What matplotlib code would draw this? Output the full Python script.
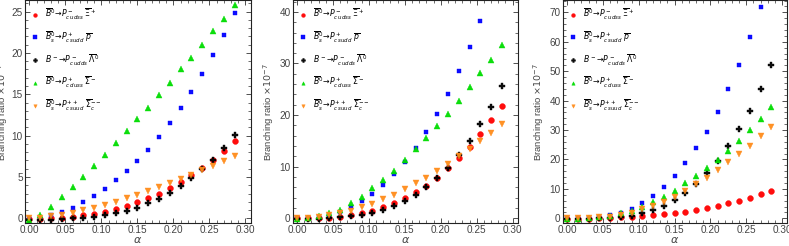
import numpy as np
import matplotlib.pyplot as plt
from matplotlib.ticker import MultipleLocator

plt.rcParams['font.family'] = ['Liberation Sans', 'DejaVu Sans']

# alpha values (x axis)
alpha = [0.0, 0.015, 0.03, 0.045, 0.06, 0.075, 0.09, 0.105, 0.12, 0.135,
         0.15, 0.165, 0.18, 0.195, 0.21, 0.225, 0.24, 0.255, 0.27, 0.285]

labels = [
    r'$\overline{B}^0\!\rightarrow\!P^-_{c\,udss}\;\overline{\Xi}^+$',
    r'$\overline{B}^0_s\!\rightarrow\!P^+_{c\,sudd}\;\overline{p}$',
    r'$B^-\!\rightarrow\!P^-_{c\,udds}\;\overline{\Lambda}^0$',
    r'$\overline{B}^0\!\rightarrow\!P^+_{c\,duss}\;\overline{\Sigma}^-$',
    r'$\overline{B}^0_s\!\rightarrow\!P^{++}_{c\,suud}\;\overline{\Sigma}_c^{--}$',
]

# panel 1 (x10^-7)
p1_red = [-0.1, -0.1, 0.0, 0.1, 0.2, 0.35, 0.55, 0.8, 1.1, 1.5,
          1.95, 2.45, 3.0, 3.65, 4.4, 5.2, 6.1, 7.1, 8.2, 9.4]
p1_blue = [0.0, 0.1, 0.4, 0.8, 1.3, 2.0, 2.7, 3.6, 4.6, 5.7,
           6.9, 8.3, 9.8, 11.5, 13.3, 15.3, 17.4, 19.7, 22.2, 24.8]
p1_black = [-0.2, -0.2, -0.2, -0.1, 0.0, 0.1, 0.2, 0.4, 0.6, 0.9,
            1.3, 1.8, 2.35, 3.1, 3.9, 4.85, 6.0, 7.1, 8.5, 10.1]
p1_green = [-0.2, 0.4, 1.4, 2.6, 3.8, 5.0, 6.3, 7.7, 9.1, 10.5,
            12.0, 13.4, 14.9, 16.4, 18.0, 19.4, 21.0, 22.6, 24.1, 25.8]
p1_orange = [0.0, 0.1, 0.3, 0.45, 0.7, 0.95, 1.3, 1.6, 2.0, 2.4,
             2.85, 3.3, 3.8, 4.3, 4.8, 5.3, 5.8, 6.3, 6.9, 7.5]

# panel 2
p2_red = [0.0, 0.0, 0.05, 0.1, 0.3, 0.6, 1.0, 1.5, 2.1, 2.9,
          3.9, 5.0, 6.3, 7.9, 9.7, 11.6, 13.9, 16.3, 19.0, 21.7]
p2_blue = [0.0, 0.1, 0.3, 0.6, 1.2, 2.2, 3.4, 4.8, 6.5, 8.6,
           11.0, 13.7, 16.8, 20.3, 24.1, 28.5, 33.2, 38.3, 43.8, 49.7]
p2_black = [-0.1, -0.1, -0.1, 0.05, 0.2, 0.4, 0.65, 1.1, 1.6, 2.3,
            3.4, 4.5, 6.1, 7.9, 9.8, 12.3, 15.0, 18.2, 21.6, 25.6]
p2_green = [-0.2, 0.1, 0.4, 1.0, 1.7, 2.9, 4.2, 5.8, 7.4, 9.2,
            11.3, 13.4, 15.6, 17.9, 20.3, 22.8, 25.4, 28.1, 30.6, 33.5]
p2_orange = [0.0, 0.1, 0.3, 0.6, 1.0, 1.4, 2.1, 2.8, 3.7, 4.6,
             5.6, 6.8, 7.9, 9.2, 10.6, 12.1, 13.4, 15.0, 16.6, 18.2]

# panel 3
p3_red = [-0.1, -0.1, -0.1, 0.05, 0.15, 0.35, 0.6, 0.8, 1.1, 1.4,
          1.9, 2.3, 2.8, 3.4, 4.2, 5.1, 6.0, 7.0, 8.2, 9.3]
p3_blue = [0.0, 0.0, 0.2, 0.5, 1.1, 1.9, 3.2, 5.1, 7.7, 10.5,
           14.4, 18.7, 24.0, 29.4, 36.2, 43.8, 52.1, 61.5, 71.7, 82.5]
p3_black = [-0.2, -0.2, -0.1, 0.0, 0.1, 0.35, 0.9, 1.7, 2.8, 4.3,
            6.2, 8.7, 11.7, 15.3, 19.6, 24.7, 30.2, 36.6, 43.8, 52.1]
p3_green = [-0.2, -0.1, 0.1, 0.35, 0.9, 1.7, 2.6, 4.0, 5.4, 7.4,
            9.4, 11.9, 14.4, 17.0, 19.8, 23.0, 26.4, 30.0, 33.7, 37.7]
p3_orange = [0.0, 0.1, 0.2, 0.4, 0.6, 1.1, 1.9, 3.1, 4.2, 5.7,
             7.4, 9.4, 11.6, 13.8, 16.4, 19.0, 21.7, 24.7, 28.0, 31.1]

panels = [
    (p1_red, p1_blue, p1_black, p1_green, p1_orange),
    (p2_red, p2_blue, p2_black, p2_green, p2_orange),
    (p3_red, p3_blue, p3_black, p3_green, p3_orange),
]
ylims = [(-0.6, 26.4), (-0.97, 42.3), (-1.7, 74.2)]
ymajor = [5, 10, 10]
yminor = [1, 2, 2]

colors = ['#ff0000', '#0000ff', '#000000', '#00dd00', '#ff8c1a']
markers = ['o', 's', 'P', '^', 'v']
msizes = [4.2, 3.4, 4.6, 3.8, 3.8]

fig = plt.figure(figsize=(7.89, 2.46), dpi=100)
lefts = [25 / 789, 292.7 / 789, 562.7 / 789]
widths = [225.5 / 789, 225.0 / 789, 224.5 / 789]
ylabel_x = [6, 271, 541]

for i, series in enumerate(panels):
    ax = fig.add_axes([lefts[i], 22.7 / 246, widths[i], 223.3 / 246])
    for s, col, mk, ms, lab in zip(series, colors, markers, msizes, labels):
        ax.plot(alpha, s, linestyle='none', marker=mk, color=col,
                markersize=ms, markeredgewidth=0.3, markeredgecolor=col,
                label=lab, alpha=0.95)
    ax.set_xlim(-0.006, 0.307)
    ax.set_ylim(*ylims[i])
    ax.xaxis.set_major_locator(MultipleLocator(0.05))
    ax.xaxis.set_minor_locator(MultipleLocator(0.01))
    ax.yaxis.set_major_locator(MultipleLocator(ymajor[i]))
    ax.yaxis.set_minor_locator(MultipleLocator(yminor[i]))
    ax.xaxis.set_major_formatter(plt.FuncFormatter(lambda v, p: f'{v:.2f}'))
    ax.tick_params(which='both', direction='in', top=True, right=True,
                   labelsize=7.2, labelcolor='#444444', color='#333333')
    ax.tick_params(which='major', length=3.5, width=0.6, pad=1.5)
    ax.tick_params(which='minor', length=2, width=0.5)
    for sp in ax.spines.values():
        sp.set_linewidth(0.8)
        sp.set_color('#222222')
    ax.set_xlabel(r'$\alpha$', fontsize=8, color='#444444', labelpad=0)
    ax.set_ylabel(r'Branching ratio $\times 10^{-7}$', fontsize=6.8,
                  color='#444444')
    ax.yaxis.set_label_coords((ylabel_x[i] + 4.5 - lefts[i] * 789) / (widths[i] * 789), 0.5)
    leg = ax.legend(loc='upper left', frameon=False, fontsize=5.6,
                    handlelength=0.6, handletextpad=1.0, labelspacing=0.95,
                    borderaxespad=0.0, markerscale=0.65,
                    bbox_to_anchor=(0.02, 0.985))

fig.savefig('out.png', dpi=100)
